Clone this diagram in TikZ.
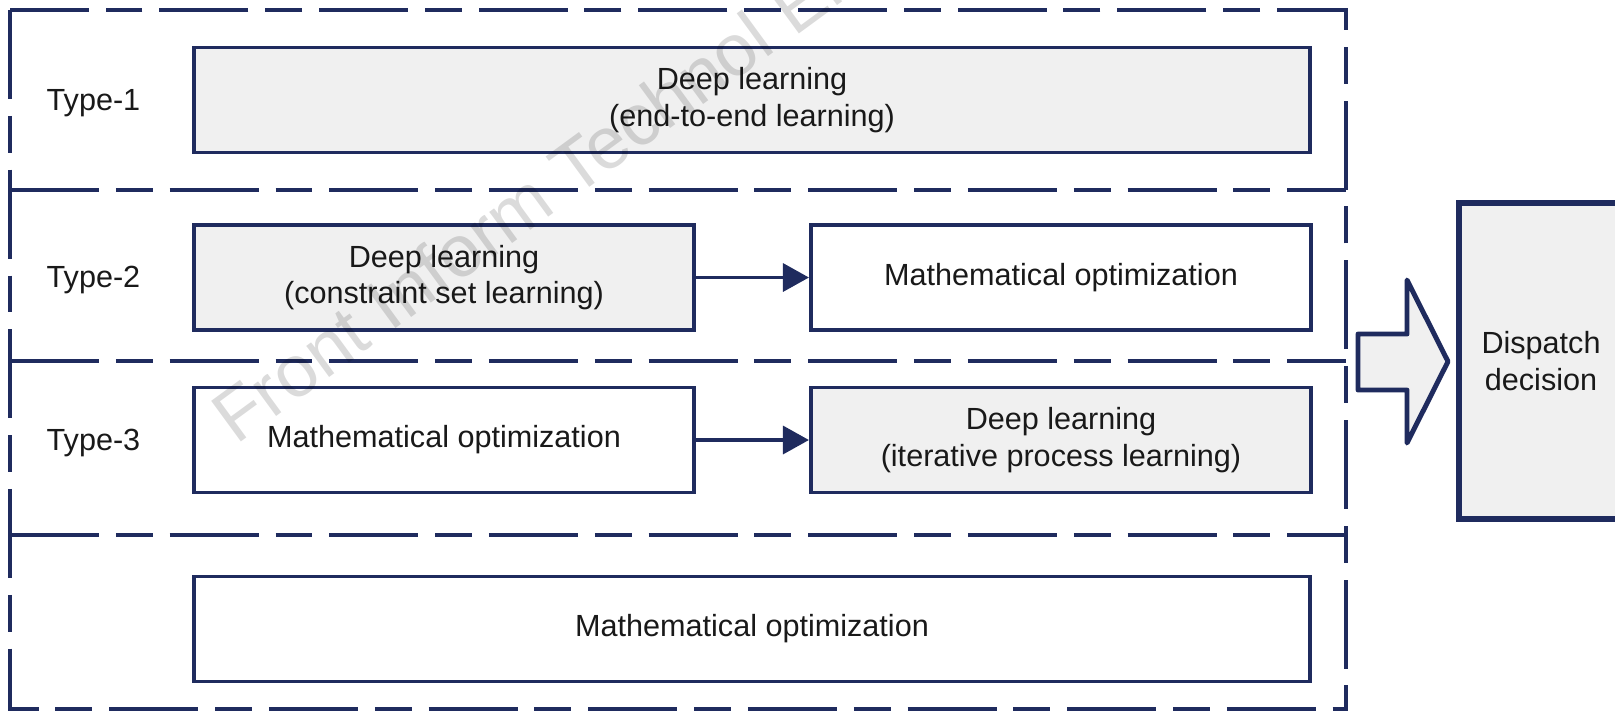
\documentclass[tikz,border=0pt]{standalone}
\usepackage{fontspec}
\setmainfont{Liberation Sans}
\usetikzlibrary{arrows.meta, positioning}
\definecolor{navy}{RGB}{31,43,94}
\definecolor{boxgray}{RGB}{240,240,240}

\begin{document}
\begin{tikzpicture}[x=0.01cm, y=-0.01cm,
	font=\fontsize{8.7}{10.4}\selectfont, text=black!90,
	band/.style={draw=navy, line width=1.15pt,
		dash pattern=on 25.3pt off 4.8pt on 10.5pt off 4.8pt},
	stage/.style={draw=navy, line width=1.1pt, inner sep=0pt,
		minimum width=5cm, minimum height=1.05cm, align=center},
	dlbox/.style={stage, fill=boxgray},
	mobox/.style={stage, fill=white},
	typelbl/.style={anchor=base west, inner sep=0pt},
	flow/.style={draw=navy, line width=0.9pt,
		-{Triangle[length=7.4pt, width=8pt]}},
	bigarrow/.style={draw=navy, fill=boxgray, line width=1.4pt,
		line join=round},
	wmark/.style={font=\fontsize{20.8}{24}\selectfont, text=black,
		opacity=0.14, inner sep=0pt}]

\useasboundingbox (0,0) rectangle (1615,711);

% frame of the four bands
\draw[band] (10,10) rectangle (1346,709);
\foreach \yy in {190, 361, 535}
	\draw[band] (10,\yy) -- (1346,\yy);

\node[typelbl] (lbl1) at (46,110) {Type-1};
\node[typelbl] (lbl2) at (46,287.5) {Type-2};
\node[typelbl] (lbl3) at (46,450) {Type-3};

\node[dlbox, minimum width=11.16cm] (dl1) at (752,100)
	{Deep learning\\(end-to-end learning)};
\node[dlbox] (dl2) at (444,277.5)
	{Deep learning\\(constraint set learning)};
\node[mobox] (mo2) at (1061,277.5) {Mathematical optimization};
\node[mobox] (mo3) at (444,440) {Mathematical optimization};
\node[dlbox] (dl3) at (1061,440)
	{Deep learning\\(iterative process learning)};
\node[mobox, minimum width=11.16cm] (mo4) at (752,629)
	{Mathematical optimization};

\draw[flow] (dl2) -- (mo2);
\draw[flow] (mo3) -- (dl3);

\node[dlbox, line width=1.7pt, minimum width=1.64cm,
	minimum height=3.16cm] (dispatch) at (1541,361)
	{Dispatch\\decision};

\draw[bigarrow] (1358,334) -- (1407,334) -- (1407,280)
	-- (1448,361.5) -- (1407,443) -- (1407,390) -- (1358,390) -- cycle;

\begin{scope}
\clip (0,0) rectangle (1615,711);
\node[wmark, rotate=36.2, anchor=base west] (wm) at (236,446)
	{Front Inform Technol El};
\end{scope}
\end{tikzpicture}
\end{document}
